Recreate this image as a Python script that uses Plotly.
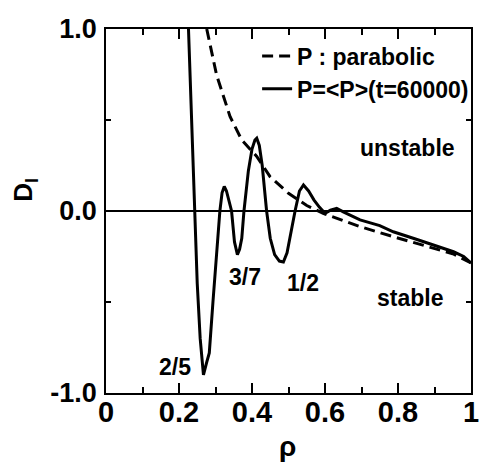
import plotly.graph_objects as go

# Solid curve: P=<P>(t=60000)
rho_avg = [0.226, 0.235, 0.244, 0.250, 0.258, 0.267, 0.276, 0.283, 0.293, 0.303,
           0.312, 0.318, 0.324, 0.330, 0.336, 0.344, 0.352, 0.360, 0.366, 0.372,
           0.378, 0.390, 0.400, 0.408, 0.413, 0.420, 0.428, 0.440, 0.450, 0.462,
           0.475, 0.486, 0.496, 0.508, 0.518, 0.530, 0.541, 0.555, 0.570, 0.585,
           0.600, 0.615, 0.632, 0.650, 0.696, 0.750, 0.787, 0.850, 0.900, 0.952,
           0.980, 1.000]
d_avg = [1.00, 0.50, 0.00, -0.40, -0.70, -0.90, -0.83, -0.78, -0.50, -0.21,
         0.00, 0.10, 0.135, 0.11, 0.06, 0.00, -0.17, -0.24, -0.21, -0.15,
         0.00, 0.22, 0.34, 0.39, 0.40, 0.36, 0.25, 0.00, -0.15, -0.24,
         -0.275, -0.28, -0.23, -0.10, 0.00, 0.11, 0.143, 0.11, 0.06, 0.02,
         -0.013, 0.005, 0.015, -0.005, -0.049, -0.08, -0.114, -0.155, -0.19, -0.224,
         -0.25, -0.285]

# Dashed curve: P : parabolic
rho_par = [0.276, 0.303, 0.340, 0.372, 0.413, 0.449, 0.500, 0.513, 0.550, 0.595,
           0.650, 0.696, 0.787, 0.878, 0.950, 1.000]
d_par = [1.00, 0.747, 0.518, 0.39, 0.30, 0.19, 0.097, 0.079, 0.03, -0.013,
         -0.055, -0.086, -0.141, -0.192, -0.235, -0.285]

x_tickvals = [0, 0.2, 0.4, 0.6, 0.8, 1.0]
x_ticktext = ["0", "0.2", "0.4", "0.6", "0.8", "1"]
y_tickvals = [-1.0, 0.0, 1.0]
y_ticktext = ["-1.0", "0.0", "1.0"]

labels = ["2/5", "3/7", "1/2", "unstable", "stable"]
label_x = [0.189, 0.381, 0.540, 0.825, 0.833]
label_y = [-0.857, -0.363, -0.396, 0.346, -0.480]

FONT = "Liberation Sans"

fig = go.Figure()
fig.add_trace(go.Scatter(x=rho_par, y=d_par, mode="lines", name="P : parabolic",
                         line=dict(color="black", width=3, dash="11px,6px")))
fig.add_trace(go.Scatter(x=rho_avg, y=d_avg, mode="lines", name="P=<P>(t=60000)",
                         line=dict(color="black", width=3)))

for t, xx, yy in zip(labels, label_x, label_y):
    fig.add_annotation(x=xx, y=yy, text=t, showarrow=False,
                       font=dict(family=FONT, size=23, color="black", weight="bold"))

fig.add_annotation(xref="paper", yref="paper", x=-0.222, y=0.558,
                   xanchor="center", yanchor="middle",
                   text="D<sub>l</sub>", textangle=-90, showarrow=False,
                   font=dict(family=FONT, size=26, color="black", weight="bold"))
fig.add_annotation(xref="paper", yref="paper", x=0.496, y=-0.148,
                   xanchor="center", yanchor="middle",
                   text="ρ", showarrow=False,
                   font=dict(family=FONT, size=28, color="black", weight="bold"))

fig.update_layout(
    width=482, height=465,
    margin=dict(l=106, r=11, t=29, b=72, autoexpand=False),
    paper_bgcolor="white", plot_bgcolor="white",
    showlegend=True,
    legend=dict(x=0.414, y=0.985, xanchor="left", yanchor="top",
                bgcolor="rgba(0,0,0,0)", borderwidth=0,
                font=dict(family=FONT, size=23, color="black", weight="bold"),
                tracegroupgap=0),
    xaxis=dict(range=[0, 1], tickvals=x_tickvals, ticktext=x_ticktext,
               automargin=False,
               ticks="inside", ticklen=10, tickwidth=1.5, tickcolor="black",
               showline=True, linecolor="black", linewidth=1.5, mirror="allticks",
               showgrid=False, zeroline=False,
               minor=dict(dtick=0.1, ticks="inside", ticklen=6, tickwidth=1.5,
                          tickcolor="black", showgrid=False),
               tickfont=dict(family=FONT, size=29, color="black", weight="bold"),
               ticklabelstandoff=-8),
    yaxis=dict(range=[-1, 1], tickvals=y_tickvals, ticktext=y_ticktext,
               automargin=False,
               ticks="inside", ticklen=5, tickwidth=1.5, tickcolor="black",
               showline=True, linecolor="black", linewidth=1.5, mirror="allticks",
               showgrid=False, zeroline=True, zerolinecolor="black", zerolinewidth=1.5,
               minor=dict(dtick=0.5, ticks="inside", ticklen=5, tickwidth=1.5,
                          tickcolor="black", showgrid=False),
               tickfont=dict(family=FONT, size=27, color="black", weight="bold"),
               ticklabelstandoff=2),
)

fig.write_html("out.html", config={"displayModeBar": False},
               post_script="document.body.style.margin='0';document.body.style.padding='0';")
